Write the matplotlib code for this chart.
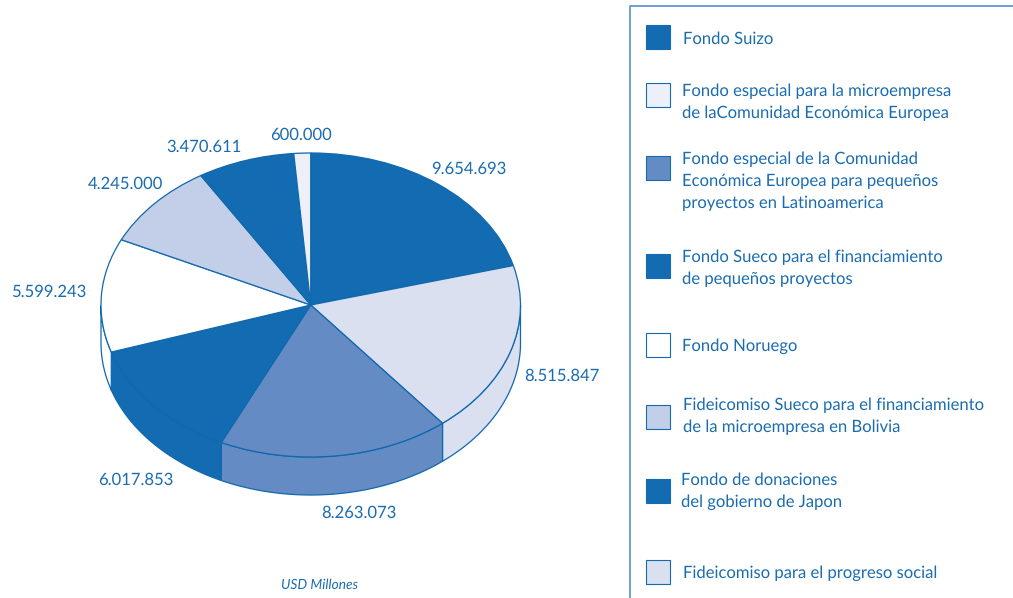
import numpy as np
import matplotlib
matplotlib.use("Agg")
import matplotlib.pyplot as plt
from matplotlib.patches import Polygon, Rectangle

plt.rcParams["text.hinting"] = "no_hinting"

# pie data, clockwise from the top
values = [9654693, 8515847, 8263073, 6017853, 5599243, 4245000, 3470611, 600000]
value_labels = ["9.654.693", "8.515.847", "8.263.073", "6.017.853",
                "5.599.243", "4.245.000", "3.470.611", "600.000"]
slice_colors = ["#136CB1", "#DAE0F0", "#658BC4", "#136CB1",
                "#FFFFFF", "#C3CFE9", "#136CB1", "#EDF0F9"]
label_pos = [(431.5, 169), (524.5, 376), (321.5, 513), (98.5, 480),
             (11.5, 292), (87.5, 184), (166.5, 147), (270.5, 135)]

# legend
legend_lines = [
    ["Fondo Suizo"],
    ["Fondo especial para la microempresa", "de laComunidad Económica Europea"],
    ["Fondo especial de la Comunidad", "Económica Europea para pequeños", "proyectos en Latinoamerica"],
    ["Fondo Sueco para el financiamiento", "de pequeños proyectos"],
    ["Fondo Noruego"],
    ["Fideicomiso Sueco para el financiamiento", "de la microempresa en Bolivia"],
    ["Fondo de donaciones", "del gobierno de Japon"],
    ["Fideicomiso para el progreso social"],
]
legend_colors = ["#136CB1", "#EDF0F9", "#658BC4", "#136CB1",
                 "#FFFFFF", "#C3CFE9", "#136CB1", "#DAE0F0"]
swatch_y = [37, 95, 168, 266, 345, 417, 491, 572]
text_y = [[39], [91, 113], [159, 181, 203], [257, 279], [346], [405, 427], [480, 502], [573]]
text_x = [683, 682, 682, 682, 682, 683, 681, 683]

W, H = 1013, 598
BLUE = "#136CB1"
EDGE = "#1068AE"
TEXT = "#1A6CB0"
FONT = "Lato"

fig = plt.figure(figsize=(W / 100, H / 100), dpi=100)

# page axes in pixels, for text and the legend
page = fig.add_axes([0, 0, 1, 1], zorder=3)
page.set_xlim(0, W)
page.set_ylim(H, 0)
page.axis("off")
page.patch.set_alpha(0)

# pie axes: the unit circle squashes into the ellipse of the tilted disc
cx_left, cx_right, top, bottom, depth = 101, 520.5, 153, 457, 38
ax = fig.add_axes([cx_left / W, (H - bottom - depth) / H,
                   (cx_right - cx_left) / W, (bottom - top + depth) / H])
wedges, _ = ax.pie(values, colors=slice_colors, startangle=90, counterclock=False,
                   wedgeprops=dict(edgecolor=EDGE, linewidth=0.9, clip_on=False, zorder=3))
ax.set_aspect("auto")
thick = 2 * depth / (bottom - top)
ax.set_xlim(-1, 1)
ax.set_ylim(-1 - thick, 1)
ax.axis("off")

# side wall, only the front half of the disc shows
edges = np.concatenate([[0], np.cumsum(values)]) / np.sum(values) * 2 * np.pi
for start, end, color in zip(edges[:-1], edges[1:], slice_colors):
    a = max(start, np.pi / 2)
    b = min(end, 3 * np.pi / 2)
    if b <= a:
        continue
    t = np.linspace(a, b, 80)
    x, y = np.sin(t), np.cos(t)
    pts = np.column_stack([np.r_[x, x[::-1]], np.r_[y, y[::-1] - thick]])
    ax.add_patch(Polygon(pts, closed=True, facecolor=color, edgecolor=EDGE,
                         linewidth=0.9, clip_on=False, zorder=2))

# value labels
for (x, y), label in zip(label_pos, value_labels):
    page.text(x, y, label, color=TEXT, fontsize=12, family=FONT, ha="left", va="center")

page.text(319.5, 585, "USD Millones", color=TEXT, fontsize=9.9, family=FONT,
          style="italic", ha="center", va="center")

# legend frame runs off the page on the right and at the bottom
page.plot([630, 630, W], [H, 5.5, 5.5], color="#5F9BD0", linewidth=1.3, clip_on=False)

for lines, color, sy, ys, tx in zip(legend_lines, legend_colors, swatch_y, text_y, text_x):
    page.add_patch(Rectangle((646, sy - 12), 23.5, 24, facecolor=color,
                             edgecolor=BLUE, linewidth=0.8))
    for line, ty in zip(lines, ys):
        page.text(tx, ty, line, color=TEXT, fontsize=12, family=FONT, ha="left", va="center")

fig.savefig("out.png", dpi=100)
